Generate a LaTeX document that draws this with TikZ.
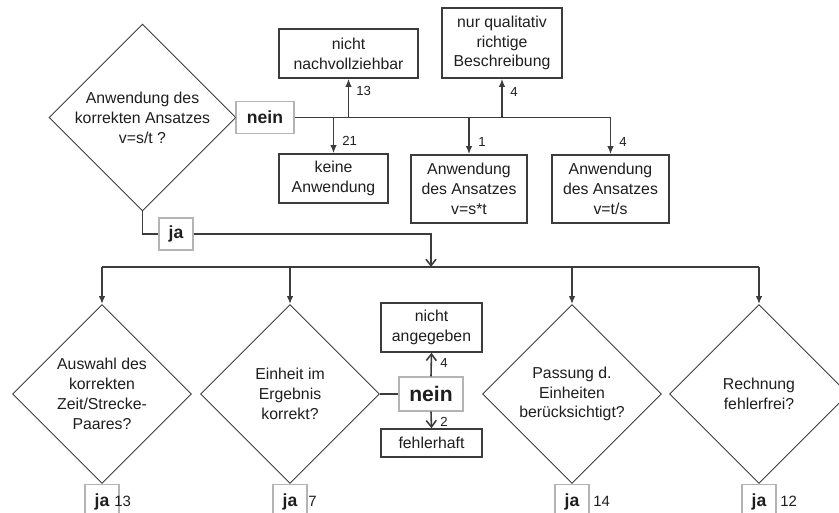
\documentclass[tikz,border=0pt]{standalone}
\usepackage{fontspec}
\setmainfont{Liberation Sans}
\usepackage{xcolor}
\usetikzlibrary{arrows.meta, positioning, calc, shapes.geometric}
\definecolor{ink}  {HTML}{3C3C3C}
\definecolor{frame}{HTML}{B4B4B4}
\definecolor{txt}  {HTML}{1E1E1E}

\begin{document}
\begin{tikzpicture}[x=0.02cm, y=-0.02cm,
  % One unit is one pixel of the sketch, y running down, so every position
  % below can be read straight off it. Sizes stay in cm.
  question/.style={draw=ink, shape=diamond, line width=0.5pt, inner sep=0pt,
                   minimum width=3.58cm, minimum height=3.58cm, align=center,
                   font=\fontsize{9}{11.3}\selectfont, text=txt},
  result/.style={draw=ink, line width=0.9pt, inner sep=0pt, align=center,
                 font=\fontsize{9}{11.3}\selectfont, text=txt},
  % The yes/no tags sit on the lines in a pale frame, bold text.
  answer/.style={draw=frame, fill=white, line width=0.6pt, inner sep=0pt,
                 font=\fontsize{10}{12}\selectfont\bfseries, text=txt},
  count/.style={font=\fontsize{7.5}{9}\selectfont, text=txt, anchor=west, inner sep=0pt},
  link/.style={draw=ink, line width=0.9pt},
  arr/.style={link, -{Latex[length=1.6mm, width=1.3mm]}},
  oarr/.style={link, -{Straight Barb[length=1.3mm, width=2mm]}}
]
\useasboundingbox (0,0) rectangle (839,513);

% first question and its "nein" branch
\node[question] (ansatz) at (142.5,117.5) {Anwendung des\\korrekten Ansatzes\\v=s/t ?};
\node[answer, minimum width=1.16cm, minimum height=0.64cm] (nein) at (265,117.5) {nein};

\node[result, minimum width=2.78cm, minimum height=0.98cm] (nachv)  at (348.5,53.5) {nicht\\nachvollziehbar};
\node[result, minimum width=2.18cm, minimum height=0.98cm] (keine)  at (333.5,178.5) {keine\\Anwendung};
\node[result, minimum width=2.40cm, minimum height=1.40cm] (qualit) at (502,43) {nur qualitativ\\richtige\\Beschreibung};
\node[result, minimum width=2.32cm, minimum height=1.36cm] (vst)    at (469,189) {Anwendung\\des Ansatzes\\v=s*t};
\node[result, minimum width=2.34cm, minimum height=1.36cm] (vts)    at (610.5,189) {Anwendung\\des Ansatzes\\v=t/s};

\draw[link] (ansatz.east) -- (nein.west);
\draw[link] (nein.east) -- (nein.east -| vts.north);
\draw[arr] (nein.east -| keine.north) -- (keine.north);
\draw[arr] (nein.east -| nachv.south) -- (nachv.south);
\draw[arr] (nein.east -| qualit.south) -- (qualit.south);
\draw[arr] (nein.east -| vst.north) -- (vst.north);
\draw[arr] (nein.east -| vts.north) -- (vts.north);

\node[count] (c21) at (342,141) {21};
\node[count] (c13) at (356,91) {13};
\node[count] (c4a) at (510,92) {4};
\node[count] (c1)  at (478,142) {1};
\node[count] (c4b) at (619,142) {4};

% "ja" leads down to the row of four checks
\node[answer, minimum width=0.68cm, minimum height=0.64cm] (ja) at (176,234) {ja};
\coordinate (split) at (431,267);

\node[question] (paar)     at (102,394) {Auswahl des\\korrekten\\Zeit/Strecke-\\Paares?};
\node[question] (einheit)  at (290,394) {Einheit im\\Ergebnis\\korrekt?};
\node[question] (passung)  at (572,394) {Passung d.\\Einheiten\\berücksichtigt?};
\node[question] (rechnung) at (759,394) {Rechnung\\fehlerfrei?};

\draw[link] (ansatz.south) |- (ja.west);
\draw[oarr] (ja.east) -| (split);
\draw[link] (split -| paar.north) -- (split -| rechnung.north);
\foreach \q in {paar, einheit, passung, rechnung}
  \draw[arr] (split -| \q.north) -- (\q.north);

% unit check branches off to the side
\node[answer, minimum width=1.28cm, minimum height=0.68cm,
      font=\fontsize{12}{14}\selectfont\bfseries] (nein2) at (431,394) {nein};
\node[result, minimum width=2.02cm, minimum height=0.98cm] (angeg) at (431.5,327.5) {nicht\\angegeben};
\node[result, minimum width=2.02cm, minimum height=0.56cm] (fehl)  at (431.5,443) {fehlerhaft};

\draw[link] (einheit.east) -- (nein2.west);
\draw[oarr] (nein2.north) -- (angeg.south);
\draw[oarr] (nein2.south) -- (fehl.north);

\node[count] (c4c) at (440,363) {4};
\node[count] (c2)  at (440,422) {2};

% yes tags under each check, with their counts
\foreach \q/\n/\dx in {paar/13/12, einheit/7/18, passung/14/21, rechnung/12/21} {
  \node[answer, anchor=north, minimum width=0.68cm, minimum height=0.70cm] (ja\q) at (\q.south) {ja};
  \node[count, font=\fontsize{8.5}{10}\selectfont] (n\q) at ($(\q.south)+(\dx,17)$) {\n};
}
\end{tikzpicture}
\end{document}
